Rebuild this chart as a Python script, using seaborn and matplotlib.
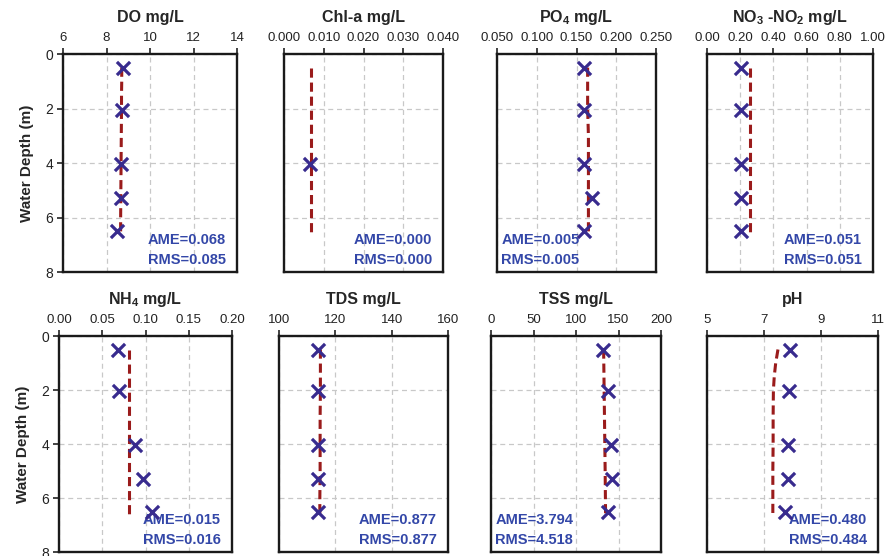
import numpy as np
import pandas as pd
import matplotlib
matplotlib.use("Agg")
import matplotlib.pyplot as plt
import seaborn as sns

sns.set_style("white")
plt.rcParams["font.family"] = ["Liberation Sans", "DejaVu Sans"]
plt.rcParams["mathtext.fontset"] = "custom"
plt.rcParams["mathtext.rm"] = "Liberation Sans:bold"
plt.rcParams["mathtext.default"] = "rm"

# Observation depths (m) and model profile depths (m)
obs_depth = [0.5, 2.05, 4.05, 5.3, 6.5]
chla_depth = [4.05]
model_depth = [0.5, 1.0, 1.5, 2.0, 3.0, 4.0, 5.0, 6.0, 6.6]

# Observed values
do_obs = [8.75, 8.73, 8.68, 8.65, 8.50]
chla_obs = [0.0065]
po4_obs = [0.160, 0.159, 0.159, 0.170, 0.159]
no3_obs = [0.205, 0.203, 0.203, 0.205, 0.205]
nh4_obs = [0.0685, 0.069, 0.0878, 0.0967, 0.108]
tds_obs = [113.9, 113.7, 113.9, 113.9, 113.8]
tss_obs = [132.2, 137.3, 141.2, 142.0, 138.0]
ph_obs = [7.90, 7.88, 7.84, 7.84, 7.72]

# Simulated profiles
do_mod = [8.70, 8.70, 8.69, 8.69, 8.68, 8.67, 8.66, 8.65, 8.65]
chla_mod = [0.0069] * 9
po4_mod = [0.164, 0.164, 0.164, 0.164, 0.165, 0.165, 0.165, 0.165, 0.165]
no3_mod = [0.258] * 9
nh4_mod = [0.0812] * 9
tds_mod = [114.7, 114.7, 114.7, 114.7, 114.6, 114.6, 114.6, 114.5, 114.5]
tss_mod = [132.5, 132.7, 132.9, 133.1, 133.5, 133.9, 134.3, 134.6, 134.8]
ph_mod = [7.49, 7.41, 7.36, 7.33, 7.32, 7.32, 7.31, 7.31, 7.31]

# Panel titles, axis ranges and ticks
titles = ["DO mg/L", "Chl-a mg/L", "PO$_4$ mg/L", "NO$_3$ -NO$_2$ mg/L",
          "NH$_4$ mg/L", "TDS mg/L", "TSS mg/L", "pH"]
x_ticks = [
    [6, 8, 10, 12, 14],
    [0.000, 0.010, 0.020, 0.030, 0.040],
    [0.050, 0.100, 0.150, 0.200, 0.250],
    [0.00, 0.20, 0.40, 0.60, 0.80, 1.00],
    [0.00, 0.05, 0.10, 0.15, 0.20],
    [100, 120, 140, 160],
    [0, 50, 100, 150, 200],
    [5, 7, 9, 11],
]
x_fmt = ["{:.0f}", "{:.3f}", "{:.3f}", "{:.2f}", "{:.2f}", "{:.0f}", "{:.0f}", "{:.0f}"]
ame = ["0.068", "0.000", "0.005", "0.051", "0.015", "0.877", "3.794", "0.480"]
rms = ["0.085", "0.000", "0.005", "0.051", "0.016", "0.877", "4.518", "0.484"]
stat_side = ["right", "right", "left", "right", "right", "right", "left", "right"]

obs_sets = [(obs_depth, do_obs), (chla_depth, chla_obs), (obs_depth, po4_obs),
            (obs_depth, no3_obs), (obs_depth, nh4_obs), (obs_depth, tds_obs),
            (obs_depth, tss_obs), (obs_depth, ph_obs)]
mod_sets = [do_mod, chla_mod, po4_mod, no3_mod, nh4_mod, tds_mod, tss_mod, ph_mod]

W, H = 889, 556
fig = plt.figure(figsize=(W / 100, H / 100), dpi=100)

# axes boxes in pixels: left, right, top, bottom
boxes = [
    (63, 237, 54, 272), (284, 443, 54, 272), (497, 656, 54, 272), (707, 873, 54, 272),
    (59, 232, 336, 552), (279, 448, 336, 552), (491, 661, 336, 552), (707, 878, 336, 552),
]

obs_color = "#382b8e"
mod_color = "#9a1b1b"
txt_color = "#3347a8"

for i, (l, r, t, b) in enumerate(boxes):
    ax = fig.add_axes([l / W, 1 - b / H, (r - l) / W, (b - t) / H])
    ticks = x_ticks[i]
    od, ov = obs_sets[i]
    mdf = pd.DataFrame({"depth": model_depth, "value": mod_sets[i]})
    odf = pd.DataFrame({"depth": od, "value": ov})

    sns.lineplot(data=mdf, x="value", y="depth", orient="y", ax=ax,
                 color=mod_color, lw=2.2, linestyle=(0, (3.0, 1.6)), zorder=3)
    sns.scatterplot(data=odf, x="value", y="depth", ax=ax, marker="x",
                    color=obs_color, s=90, linewidth=2.3, zorder=4)

    ax.set_xlim(ticks[0], ticks[-1])
    ax.set_ylim(8, 0)
    ax.xaxis.tick_top()
    ax.set_xticks(ticks)
    ax.set_xticklabels([x_fmt[i].format(v) for v in ticks])
    ax.set_yticks([0, 2, 4, 6, 8])
    ax.tick_params(axis="x", which="both", top=True, bottom=False, direction="out",
                   length=4, width=1.2, labelsize=9.5, pad=3, colors="#222222")
    if i in (0, 4):
        ax.tick_params(axis="y", left=True, direction="out", length=4, width=1.2,
                       labelsize=10, pad=3, colors="#222222")
        ax.set_ylabel("Water Depth (m)", fontsize=11, fontweight="bold", labelpad=8)
    else:
        ax.tick_params(axis="y", left=False, labelleft=False)
        ax.set_ylabel("")
    ax.set_xlabel("")
    ax.grid(True, color="#c8c8c8", linestyle=(0, (4, 3)), linewidth=0.9)
    for s in ax.spines.values():
        s.set_visible(True)
        s.set_linewidth(1.7)
        s.set_color("#1a1a1a")
    ax.set_title(titles[i], fontsize=11.5, fontweight="bold", pad=23)

    if stat_side[i] == "right":
        xa, ha, dx = 1.0, "right", -8
    else:
        xa, ha, dx = 0.0, "left", 3
    ax.annotate(f"AME={ame[i]}", xy=(xa, 0.0), xycoords="axes fraction",
                xytext=(dx, 18), textcoords="offset points", ha=ha, va="bottom",
                fontsize=10.5, fontweight="bold", color=txt_color)
    ax.annotate(f"RMS={rms[i]}", xy=(xa, 0.0), xycoords="axes fraction",
                xytext=(dx, 3.5), textcoords="offset points", ha=ha, va="bottom",
                fontsize=10.5, fontweight="bold", color=txt_color)

fig.savefig("out.png", dpi=100)
